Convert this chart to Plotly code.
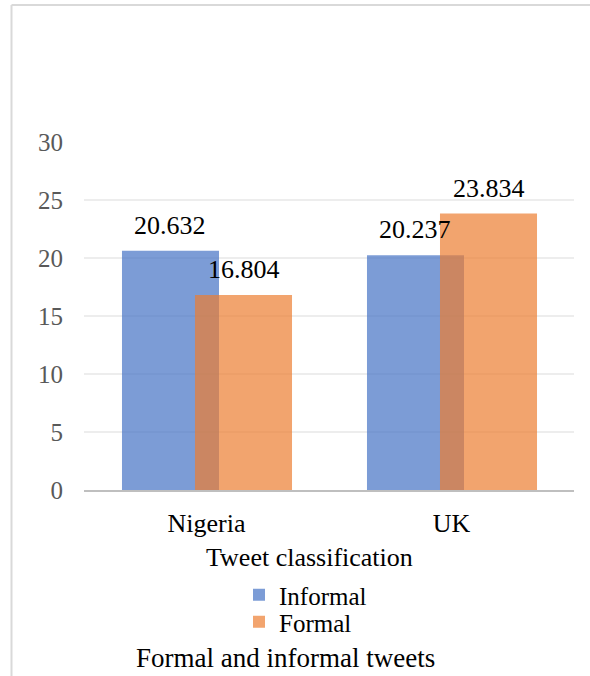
import plotly.graph_objects as go

categories = ["Nigeria", "UK"]
informal = [20.632, 20.237]
formal = [16.804, 23.834]
series_names = ["Informal", "Formal"]
y_ticks = [0, 5, 10, 15, 20, 25, 30]

W, H = 590, 676
L, R, T, B = 84, 16, 142, 186
PW, PH = W - L - R, H - T - B

def px_x(px):
    return (px - L) / PW

def px_y(py):
    return (H - B - py) / PH

FONT = "'Times New Roman', 'Liberation Serif', 'DejaVu Serif', serif"
BAR_W = 0.396
OFF_INF = -0.345
OFF_FOR = -0.047

fig = go.Figure()
fig.add_trace(go.Bar(
    x=categories, y=informal, name=series_names[0],
    width=BAR_W, offset=OFF_INF,
    marker=dict(color="rgba(68,114,196,0.70)", line=dict(width=0)),
    legend="legend",
))
fig.add_trace(go.Bar(
    x=categories, y=formal, name=series_names[1],
    width=BAR_W, offset=OFF_FOR,
    marker=dict(color="rgba(237,125,49,0.70)", line=dict(width=0)),
    legend="legend2",
))

annotations = []
for i, v in enumerate(informal):
    annotations.append(dict(
        x=i + OFF_INF + BAR_W / 2, y=v, xref="x", yref="y",
        text=f"{v:.3f}", showarrow=False, yanchor="bottom", yshift=9,
        font=dict(family=FONT, size=26, color="#000000"),
    ))
for i, v in enumerate(formal):
    annotations.append(dict(
        x=i + OFF_FOR + BAR_W / 2, y=v, xref="x", yref="y",
        text=f"{v:.3f}", showarrow=False, yanchor="bottom", yshift=9,
        font=dict(family=FONT, size=26, color="#000000"),
    ))

annotations.append(dict(
    x=px_x(309), y=px_y(557), xref="paper", yref="paper",
    text="Tweet classification", showarrow=False,
    xanchor="center", yanchor="middle",
    font=dict(family=FONT, size=26, color="#000000"),
))
annotations.append(dict(
    x=px_x(285), y=px_y(658), xref="paper", yref="paper",
    text="Formal and informal tweets", showarrow=False,
    xanchor="center", yanchor="middle",
    font=dict(family=FONT, size=27, color="#000000"),
))

shapes = [
    dict(type="line", xref="paper", yref="paper",
         x0=px_x(11.5), x1=px_x(600), y0=px_y(5), y1=px_y(5),
         line=dict(color="#d9d9d9", width=2)),
    dict(type="line", xref="paper", yref="paper",
         x0=px_x(11.5), x1=px_x(11.5), y0=px_y(5), y1=px_y(690),
         line=dict(color="#d9d9d9", width=2)),
]

legend_common = dict(
    font=dict(family=FONT, size=25, color="#000000"),
    bgcolor="rgba(0,0,0,0)", borderwidth=0,
    xanchor="left", yanchor="middle",
    itemclick=False, itemdoubleclick=False,
    tracegroupgap=0,
)

fig.update_layout(
    width=W, height=H,
    margin=dict(l=L, r=R, t=T, b=B, pad=0),
    paper_bgcolor="white", plot_bgcolor="white",
    barmode="overlay",
    showlegend=True,
    legend=dict(x=px_x(239), y=px_y(595), **legend_common),
    legend2=dict(x=px_x(239), y=px_y(622), **legend_common),
    xaxis=dict(
        type="category", range=[-0.5, 1.5],
        showline=True, linecolor="#bfbfbf", linewidth=2,
        showgrid=False, ticks="",
        tickfont=dict(family=FONT, size=26, color="#000000"),
        ticklabelstandoff=9,
    ),
    yaxis=dict(
        range=[0, 30], tickvals=y_ticks,
        showgrid=True, gridcolor="#ededed", gridwidth=1.5,
        zeroline=False, showline=False, ticks="",
        tickfont=dict(family=FONT, size=25, color="#595959"),
        ticklabelstandoff=20,
    ),
    annotations=annotations,
    shapes=shapes,
)

fig.write_html("out.html")
